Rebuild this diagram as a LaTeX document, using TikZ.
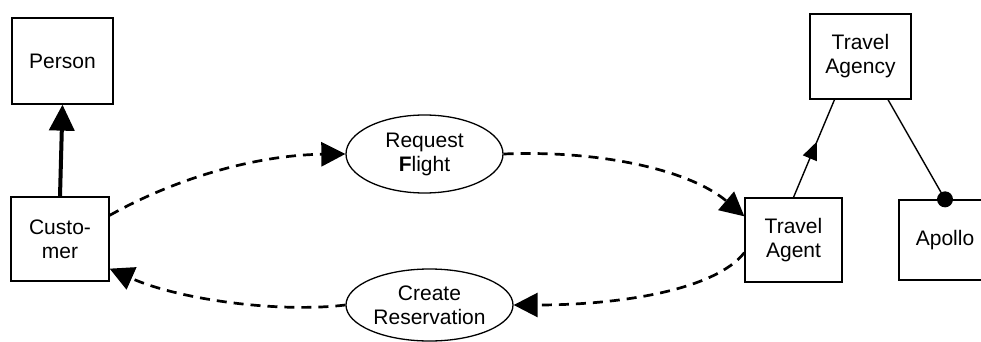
\documentclass[tikz,border=0pt]{standalone}
\usepackage{fontspec}
\setmainfont{Liberation Sans}
\usetikzlibrary{arrows.meta,shapes.geometric,decorations.markings}
\begin{document}
\begin{tikzpicture}[x=1pt,y=-1pt,
  every node/.style={font=\fontsize{21pt}{24pt}\selectfont, align=center, inner sep=0pt},
  classbox/.style={draw, line width=1.3pt, minimum width=#1},
  usecase/.style={draw, ellipse, line width=1.3pt},
  flow/.style={dashed, dash pattern=on 10pt off 7pt, line width=2.7pt,
    -{Triangle[length=24pt,width=24pt]}},
  generalize/.style={line width=4pt, -{Triangle[length=26pt,width=25pt]}},
  assoc/.style={line width=1.4pt}
]
\useasboundingbox (0,0) rectangle (981,342);

% classes
\node[classbox=101pt, minimum height=86pt] (person) at (62.5,61) {Person};
\node[classbox=98pt, minimum height=84pt] (cust) at (60,239) {Custo-\\mer};
\node[classbox=101pt, minimum height=85pt] (agency) at (860.5,56.5) {Travel\\Agency};
\node[classbox=97pt, minimum height=84pt] (agent) at (793.5,240) {Travel\\Agent};
\node[classbox=92pt, minimum height=80pt] (apollo) at (945,240) {Apollo};

% use cases
\node[usecase, minimum width=157pt, minimum height=78pt] (req) at (424.5,154) {Request\\\textbf{F}light};
\node[usecase, minimum width=167pt, minimum height=72pt] (res) at (429.5,305) {Create\\Reservation};

% inheritance
\draw[generalize] (cust.north) -- (person.south);

% message flows
\draw[flow] ([yshift=-19pt]cust.north east)
  .. controls (180,176) and (260,155) .. (req.west);
\draw[flow] (req.east)
  .. controls (600,150) and (690,170) .. ([yshift=-19pt]agent.north west);
\draw[flow] ([yshift=30pt]agent.south west)
  .. controls (715,290) and (620,305) .. (res.east);
\draw[flow] (res.west)
  .. controls (280,313) and (180,300) .. ([yshift=13pt]cust.south east);

% agent belongs to agency
\draw[assoc, postaction={decorate}, decoration={markings,
    mark=at position 0.57 with {\arrow{Triangle[length=18pt,width=15pt]}}}]
  (agent.north) -- ([xshift=-26pt]agency.south);

% agency uses Apollo
\draw[assoc] ([xshift=27.5pt]agency.south) -- (apollo.north);
\fill (apollo.north) circle (8pt);
\end{tikzpicture}
\end{document}
